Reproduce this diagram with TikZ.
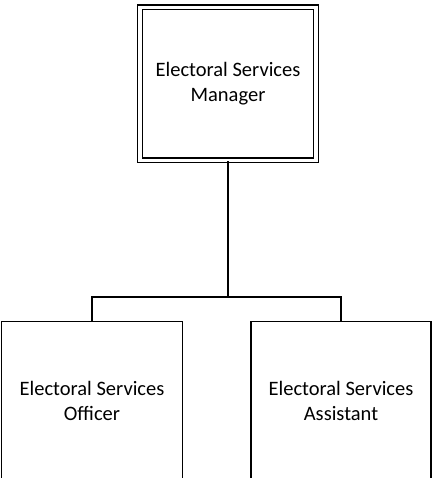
\documentclass[tikz,border=0pt]{standalone}
\usepackage{fontspec}
\setmainfont{Carlito}
\begin{document}
\begin{tikzpicture}[x=1pt,y=-1pt]

        \tikzset{post/.style={draw,line width=1.2pt,inner sep=0pt,align=center,
                              font=\fontsize{20.5}{25}\selectfont}}
        \tikzset{head/.style={post,double,double distance=3.6pt}}

        \useasboundingbox (0,0) rectangle (432,478);

        % Draw posts
        \node (mgr) at (228,84) [head,minimum width=176pt,minimum height=153pt]
            {Electoral Services\\Manager};
        \node (officer) at (92,401) [post,minimum width=181pt,minimum height=159pt]
            {Electoral Services\\Officer};
        \node (assistant) at (341,401) [post,minimum width=180pt,minimum height=159pt]
            {Electoral Services\\Assistant};

        % Draw reporting lines
        \coordinate (bus) at (228,297);
        \draw[line width=1.2pt] (mgr.south) -- (bus);
        \draw[line width=1.2pt] (bus) -| (officer.north);
        \draw[line width=1.2pt] (bus) -| (assistant.north);

    \end{tikzpicture}
\end{document}
